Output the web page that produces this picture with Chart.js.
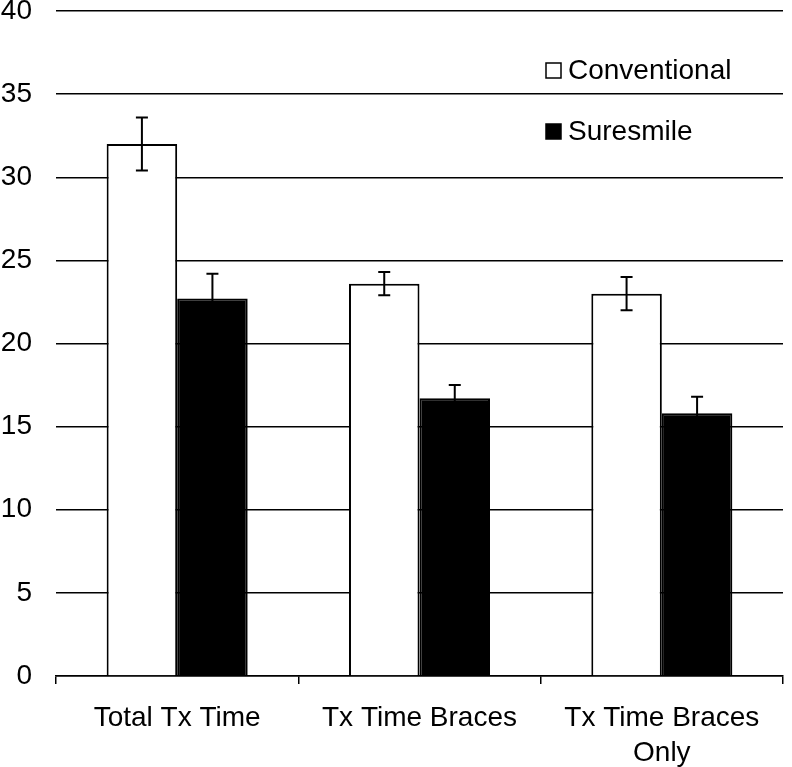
<!DOCTYPE html>
<html>
<head>
<meta charset="utf-8">
<script src="https://cdn.jsdelivr.net/npm/chart.js@4/dist/chart.umd.min.js"></script>
<style>
  html, body { margin: 0; padding: 0; background: #fff; }
  #wrap { width: 792px; height: 767px; position: relative; }
</style>
</head>
<body>
<div id="wrap"><canvas id="c" width="792" height="767"></canvas></div>
<script>
const categories = ["Total Tx Time", "Tx Time Braces", ["Tx Time Braces", "Only"]];
const seriesNames = ["Conventional", "Suresmile"];
const conventional = [32.0, 23.6, 23.0];
const conventionalErr = [1.6, 0.7, 1.0];
const suresmile = [22.7, 16.7, 15.8];
const suresmileErr = [1.5, 0.8, 1.0];
const yTicks = [0, 5, 10, 15, 20, 25, 30, 35, 40];

const FONT = "'Liberation Sans', Arial, sans-serif";

const errorBars = {
  id: 'errorBars',
  afterDatasetsDraw(chart) {
    const ctx = chart.ctx;
    const ys = chart.scales.y;
    chart.data.datasets.forEach((ds, i) => {
      const meta = chart.getDatasetMeta(i);
      meta.data.forEach((el, j) => {
        const v = ds.data[j], e = ds.errors[j];
        const yT = ys.getPixelForValue(v + e);
        const yB = ys.getPixelForValue(v - e);
        const x = el.x;
        ctx.save();
        ctx.strokeStyle = '#000';
        ctx.lineWidth = 2;
        ctx.beginPath();
        ctx.moveTo(x, yT); ctx.lineTo(x, yB);
        ctx.moveTo(x - 6, yT); ctx.lineTo(x + 6, yT);
        ctx.moveTo(x - 6, yB); ctx.lineTo(x + 6, yB);
        ctx.stroke();
        ctx.restore();
      });
    });
  }
};

const customLegend = {
  id: 'customLegend',
  afterDraw(chart) {
    const ctx = chart.ctx;
    const area = chart.chartArea;
    const x0 = area.right - 237;
    const rows = [70, 131];
    ctx.save();
    chart.data.datasets.forEach((ds, i) => {
      const cy = rows[i];
      ctx.fillStyle = ds.backgroundColor;
      ctx.fillRect(x0, cy - 7, 15, 15);
      ctx.strokeStyle = '#000';
      ctx.lineWidth = 1.5;
      ctx.strokeRect(x0, cy - 7, 15, 15);
      ctx.fillStyle = '#000';
      ctx.font = "28px " + FONT;
      ctx.textBaseline = 'middle';
      ctx.textAlign = 'left';
      ctx.fillText(ds.label, x0 + 22, cy + 1);
    });
    ctx.restore();
  }
};

new Chart(document.getElementById('c'), {
  type: 'bar',
  data: {
    labels: categories,
    datasets: [
      { label: seriesNames[0], data: conventional, errors: conventionalErr,
        backgroundColor: '#ffffff', borderColor: '#000000', borderWidth: 2,
        categoryPercentage: 0.582, barPercentage: 1.0 },
      { label: seriesNames[1], data: suresmile, errors: suresmileErr,
        backgroundColor: '#000000', borderColor: '#000000', borderWidth: 2,
        categoryPercentage: 0.582, barPercentage: 1.0 }
    ]
  },
  options: {
    responsive: false,
    animation: false,
    layout: { padding: { top: 11, right: 9, left: 0, bottom: 0 } },
    plugins: { legend: { display: false }, tooltip: { enabled: false } },
    scales: {
      x: {
        afterFit(s) { s.height = 91; s.paddingLeft = 0; s.paddingRight = 0; },
        grid: { display: true, offset: true, drawOnChartArea: false, drawTicks: true,
                tickLength: 8, color: '#000', lineWidth: 1.5 },
        border: { display: true, color: '#000', width: 1.5 },
        ticks: { color: '#000', font: { family: FONT, size: 28, lineHeight: 1.25 },
                  padding: 17, maxRotation: 0, autoSkip: false }
      },
      y: {
        min: 0, max: 40,
        afterFit(s) { s.width = 56; s.paddingTop = 0; s.paddingBottom = 0; },
        afterBuildTicks(s) { s.ticks = yTicks.map(v => ({ value: v })); },
        grid: { display: true, drawTicks: false, color: '#000', lineWidth: 1.5 },
        border: { display: false },
        ticks: { color: '#000', font: { family: FONT, size: 28 }, padding: 24 }
      }
    }
  },
  plugins: [errorBars, customLegend]
});
</script>
</body>
</html>
